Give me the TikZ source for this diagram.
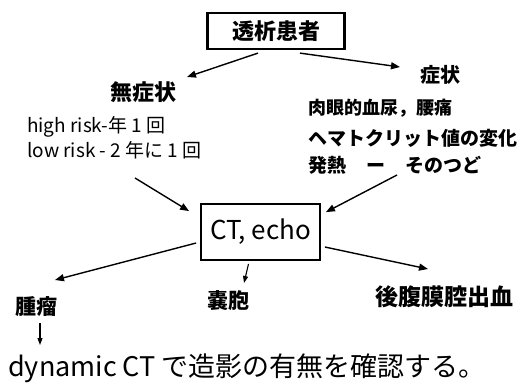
\documentclass[tikz,border=0pt]{standalone}
\usepackage{fontspec}
\setmainfont{Noto Sans CJK JP}
\usetikzlibrary{arrows.meta}
\newcommand{\fs}[1]{\fontsize{#1}{#1}\selectfont}
\begin{document}
\begin{tikzpicture}[x=1pt,y=-1pt,
  txt/.style={inner sep=0pt},
  hd/.style={inner sep=0pt,font=\bfseries\fs{21}},
  arr/.style={line width=1.4pt,-{Triangle[length=9pt,width=7pt]}},
  sarr/.style={line width=1.1pt,-{Triangle[length=7pt,width=5pt]}}]
\useasboundingbox (0,0) rectangle (521,384);
\node[draw,line width=2.2pt,minimum width=137pt,minimum height=36pt,font=\bfseries\fs{22}] (top) at (276,31) {透析患者};
\node[hd,font=\bfseries\fs{22}] (asym) at (143,92) {無症状};
\node[txt,anchor=west,font=\fs{19}] (hr) at (27,127) {high risk-年 1 回};
\node[txt,anchor=west,font=\fs{19}] (lr) at (27,150) {low risk - 2 年に 1 回};
\node[hd,font=\bfseries\fs{20}] (sym) at (440,75) {症状};
\node[txt,anchor=west,font=\bfseries\fs{18}] (s1) at (308,108) {肉眼的血尿，腰痛};
\node[txt,anchor=west,font=\bfseries\fs{19}] (s2) at (308,138) {ヘマトクリット値の変化};
\node[txt,anchor=west,font=\bfseries\fs{19}] (s3) at (308,165) {発熱\hspace{20pt}ー\hspace{20pt}そのつど};
\node[draw,line width=1.8pt,minimum width=119pt,minimum height=56pt,font=\fs{26}] (ct) at (260.5,232) {CT, echo};
\node[hd] (tumor) at (37,307) {腫瘤};
\node[hd] (cyst) at (228,301) {嚢胞};
\node[hd,font=\bfseries\fs{23}] (hem) at (444,297) {後腹膜腔出血};
\node[txt,anchor=west,font=\fs{27}] (dyn) at (8,368) {dynamic CT で造影の有無を確認する。};
\draw[arr] ([shift={(-18,3)}]top.south) -- ([shift={(44,-15)}]asym.center);
\draw[arr] ([shift={(24,3)}]top.south) -- ([shift={(-40,-8)}]sym.center);
\draw[arr] ([shift={(108,28)}]lr.west) -- ([shift={(-11,8)}]ct.north west);
\draw[arr] ([shift={(89,10)}]s3.west) -- ([shift={(5,9)}]ct.north east);
\draw[arr] ([shift={(-4,11)}]ct.west) -- ([shift={(18,-27)}]tumor.center);
\draw[sarr] ([shift={(-12,3)}]ct.south) -- ([shift={(16,-18)}]cyst.center);
\draw[arr] ([shift={(4,15)}]ct.east) -- ([shift={(-16,-28)}]hem.center);
\draw[sarr] ([shift={(3,16)}]tumor.center) -- ([shift={(3,38)}]tumor.center);
\end{tikzpicture}
\end{document}
